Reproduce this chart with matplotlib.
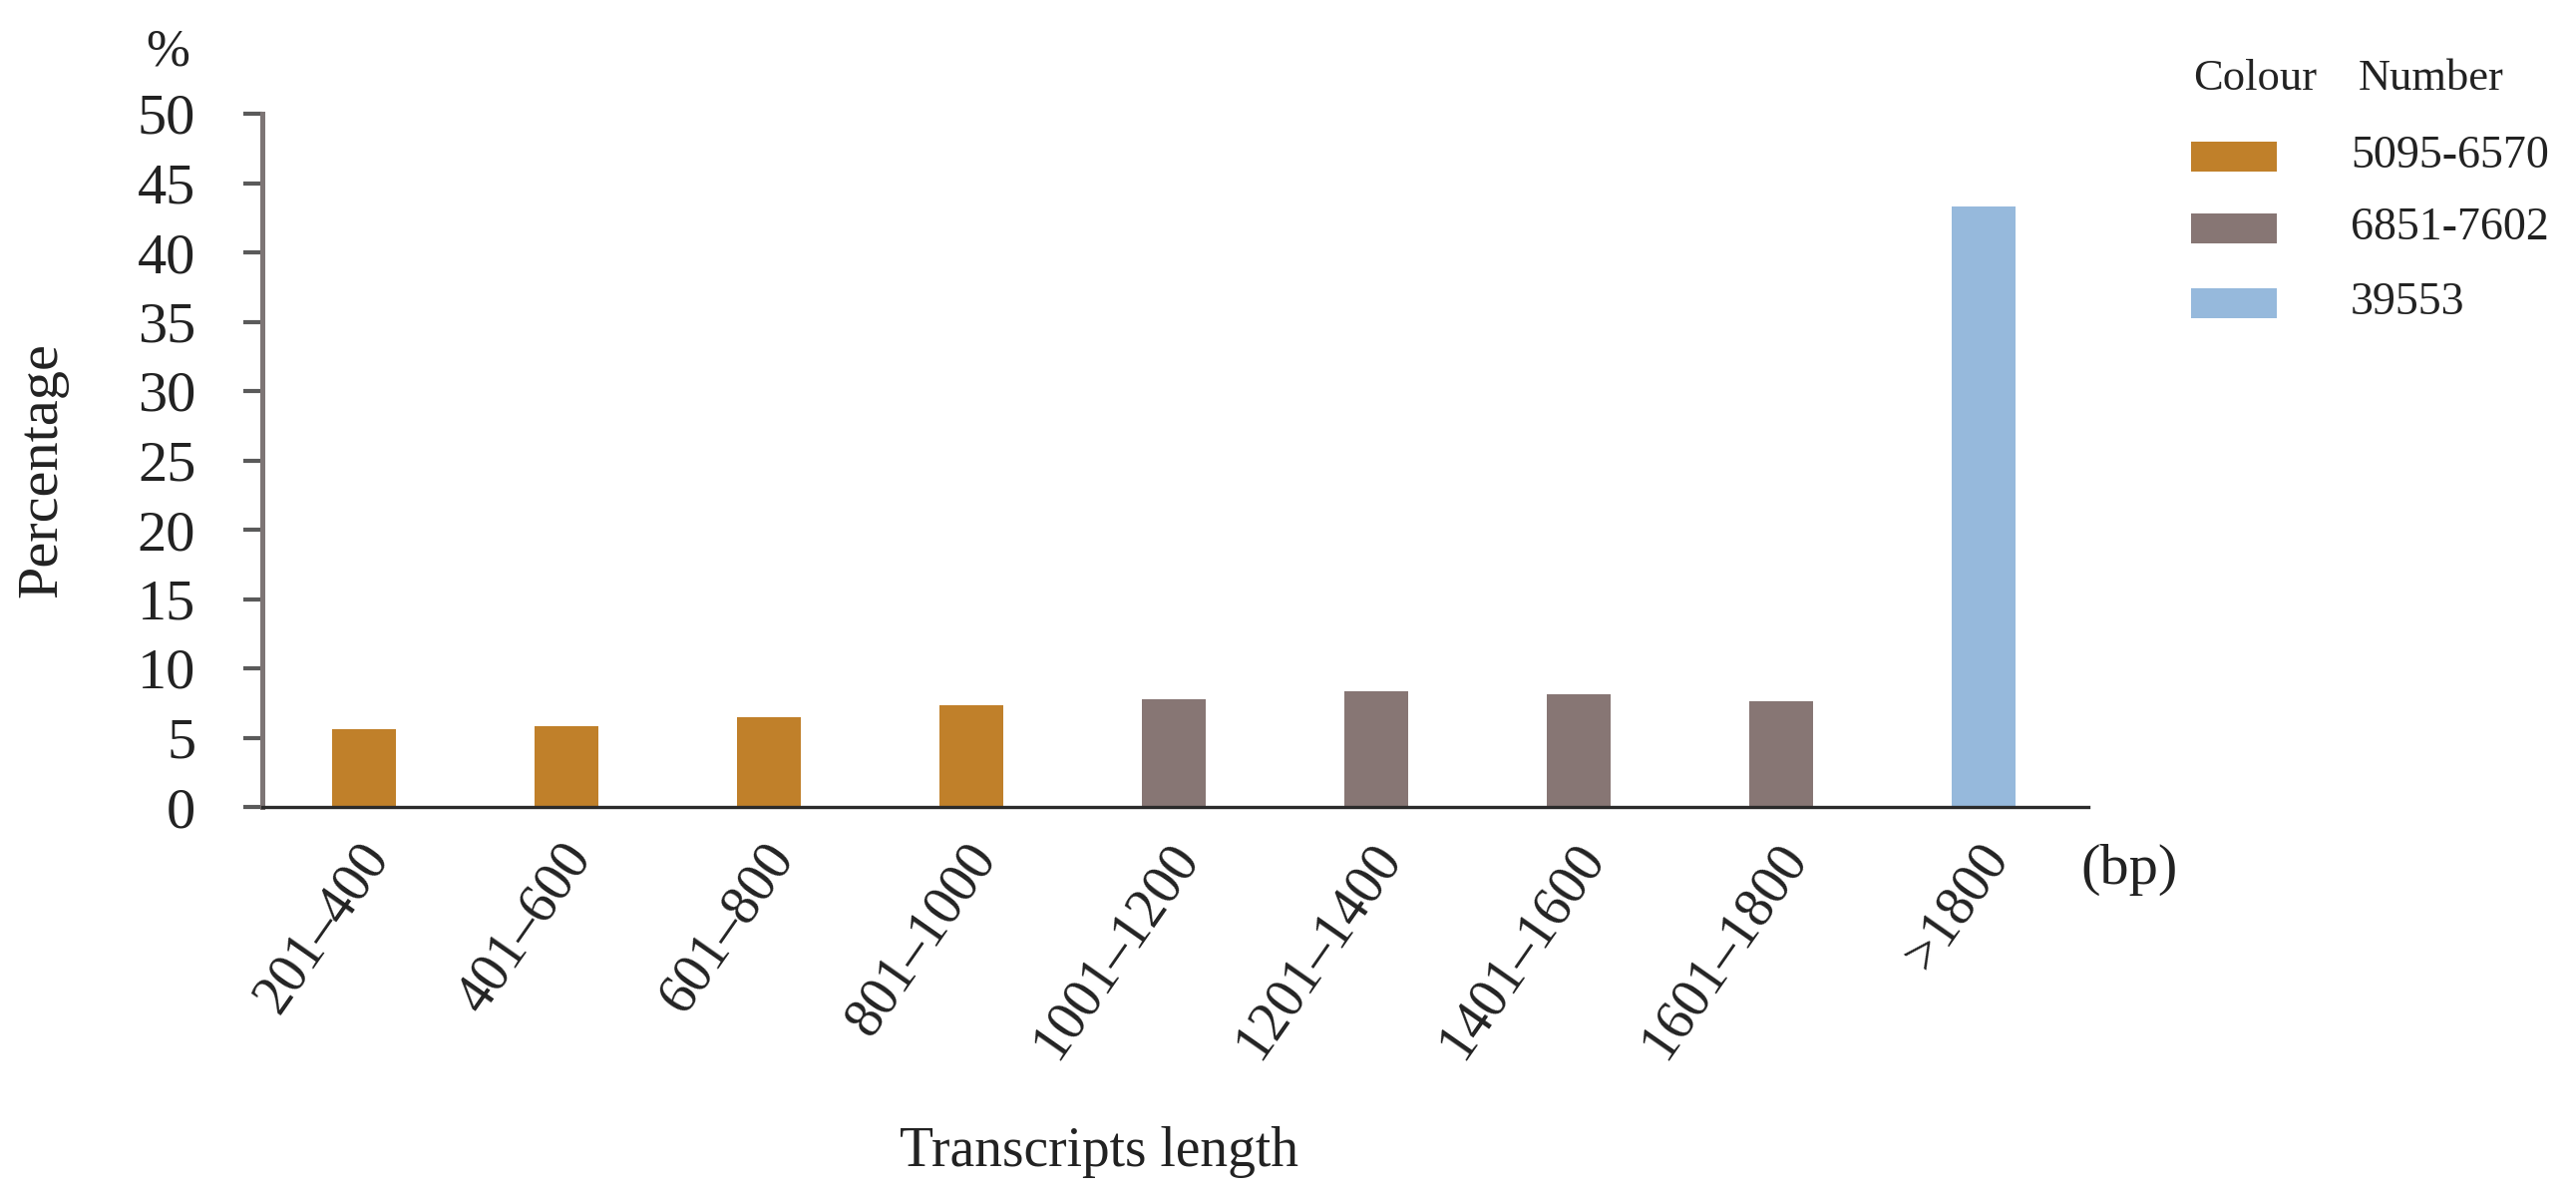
import matplotlib
matplotlib.use("Agg")
import matplotlib.pyplot as plt
from matplotlib.patches import Rectangle
from matplotlib.transforms import ScaledTranslation

plt.rcParams['font.family'] = ['Liberation Serif', 'DejaVu Serif']

# ---- data ----
categories = ["201–400", "401–600", "601–800", "801–1000", "1001–1200",
              "1201–1400", "1401–1600", "1601–1800", ">1800"]
percentages = [5.6, 5.85, 6.45, 7.35, 7.8, 8.35, 8.1, 7.6, 43.3]
groups = [0, 0, 0, 0, 1, 1, 1, 1, 2]
group_labels = ["5095-6570", "6851-7602", "39553"]
group_colors = ["#C0802A", "#877674", "#96B9DC"]
yticks = [0, 5, 10, 15, 20, 25, 30, 35, 40, 45, 50]

W, H = 2583, 1199
DPI = 100
fig = plt.figure(figsize=(W / DPI, H / DPI), dpi=DPI)
fig.patch.set_facecolor("white")

def fx(px):
    return px / W

def fy(py):
    return 1 - py / H

ax_l, ax_r, ax_t, ax_b = 263, 2094, 114, 809
ax = fig.add_axes([fx(ax_l), fy(ax_b), fx(ax_r - ax_l), (ax_b - ax_t) / H])

x = list(range(len(categories)))
colors = [group_colors[g] for g in groups]
ax.bar(x, percentages, width=0.315, color=colors, zorder=2)

ax.set_xlim(-0.502, 8.517)
ax.set_ylim(0, 50)
ax.set_yticks(yticks)
ax.set_yticklabels([str(v) for v in yticks], fontsize=42)
ax.tick_params(axis='y', direction='out', length=14, width=3,
               color='#5a5a5a', pad=34, labelcolor='#222222')

ax.set_xticks(x)
ax.set_xticklabels(categories, fontsize=40, rotation=55, ha='right',
                   va='center', rotation_mode='anchor', color='#222222')
ax.tick_params(axis='x', length=0, pad=30)
offset = ScaledTranslation(14 / DPI, 0, fig.dpi_scale_trans)
for lbl in ax.get_xticklabels():
    lbl.set_transform(lbl.get_transform() + offset)

for s in ['top', 'right']:
    ax.spines[s].set_visible(False)
ax.spines['left'].set_color('#7d7575')
ax.spines['left'].set_linewidth(3.6)
ax.spines['bottom'].set_color('#2b2b2b')
ax.spines['bottom'].set_linewidth(2.4)

ax.set_ylabel("Percentage", fontsize=42, va='center', color='#222222')
ax.yaxis.set_label_coords((42 - ax_l) / (ax_r - ax_l), (ax_b - 471) / (ax_b - ax_t))
ax.set_xlabel("Transcripts length", fontsize=40, va='center', color='#222222')
ax.xaxis.set_label_coords((1102 - ax_l) / (ax_r - ax_l), (ax_b - 1155) / (ax_b - ax_t))

fig.text(fx(168), fy(53), "%", fontsize=38, ha='center', va='center', color='#222222')
fig.text(fx(2135), fy(872), "(bp)", fontsize=42, ha='center', va='center', color='#222222')

# ---- legend ----
fig.text(fx(2261), fy(79), "Colour", fontsize=32, ha='center', va='center', color='#222222')
fig.text(fx(2438), fy(79), "Number", fontsize=32, ha='center', va='center', color='#222222')
row_y = [157, 229, 304]
for lab, col, yy in zip(group_labels, group_colors, row_y):
    fig.add_artist(Rectangle((fx(2197), fy(yy + 15)), fx(86), 30 / H,
                             transform=fig.transFigure, facecolor=col,
                             edgecolor='none'))
    fig.text(fx(2357), fy(yy), lab, fontsize=33, ha='left', va='center', color='#222222')

fig.savefig("out.png", dpi=DPI, facecolor="white")
